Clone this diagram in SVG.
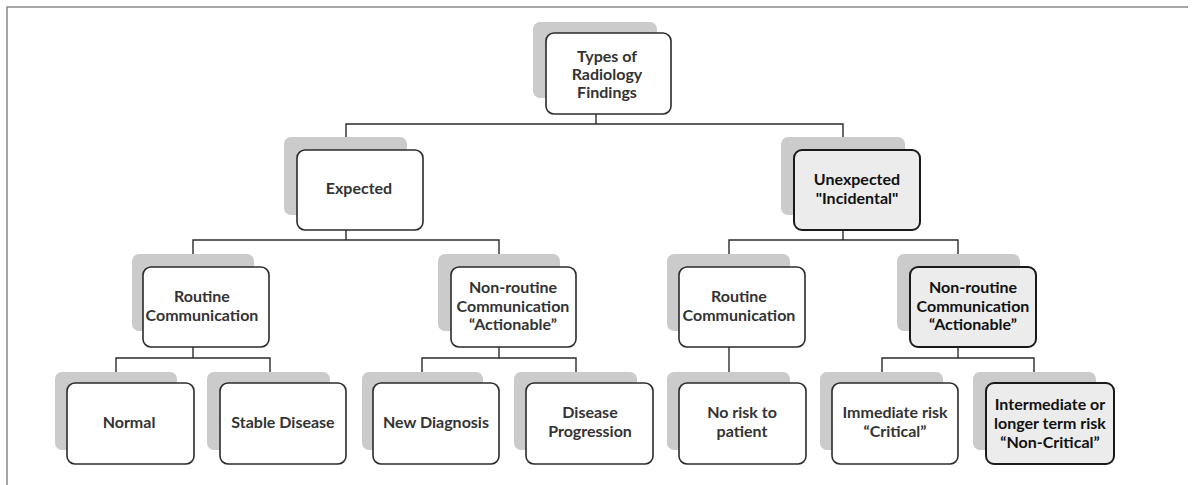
<svg xmlns="http://www.w3.org/2000/svg" width="1195" height="485" viewBox="0 0 1195 485">
<style>
.sh{fill:#cbcbcb;}
.bx{fill:#ffffff;stroke:#2b2b2b;stroke-width:1.6;}
.hl .bx{fill:#ececec;stroke:#1a1a1a;stroke-width:2;}
text{font-family:Lato,"Open Sans","Liberation Sans",sans-serif;font-weight:bold;font-size:16px;fill:#333333;text-anchor:middle;}
.hl text{fill:#111111;}
.cn{fill:none;stroke:#2b2b2b;stroke-width:1.4;}
.fr{fill:none;stroke:#8a8a8a;stroke-width:1.5;}
</style>
<g id="frame">
<polyline class="fr" points="7,485 7,7 1188,7"/>
</g>
<g id="connectors">
<polyline class="cn" points="596,114 596,124"/>
<polyline class="cn" points="346,150 346,124 843,124 843,150"/>
<polyline class="cn" points="346,230 346,240"/>
<polyline class="cn" points="193,267 193,240 499,240 499,267"/>
<polyline class="cn" points="843,230 843,240"/>
<polyline class="cn" points="729,267 729,240 958,240 958,267"/>
<polyline class="cn" points="193,347 193,358"/>
<polyline class="cn" points="116,383 116,358 270,358 270,383"/>
<polyline class="cn" points="499,347 499,358"/>
<polyline class="cn" points="422,383 422,358 576,358 576,383"/>
<polyline class="cn" points="729,347 729,383"/>
<polyline class="cn" points="958,347 958,358"/>
<polyline class="cn" points="882,383 882,358 1034,358 1034,383"/>
</g>
<g id="n-root">
<rect class="sh" x="533" y="22" width="124" height="76" rx="7"/>
<rect class="bx" x="546" y="33" width="125" height="81" rx="8"/>
<text x="607" y="62">Types of</text>
<text x="607" y="80">Radiology</text>
<text x="607" y="98">Findings</text>
</g>
<g id="n-expected">
<rect class="sh" x="284" y="137" width="123" height="78" rx="7"/>
<rect class="bx" x="297" y="150" width="126" height="80" rx="8"/>
<text x="359" y="194">Expected</text>
</g>
<g id="n-unexpected" class="hl">
<rect class="sh" x="781" y="137" width="124" height="78" rx="7"/>
<rect class="bx" x="794" y="150" width="126" height="80" rx="8"/>
<text x="857" y="185">Unexpected</text>
<text x="857" y="204">"Incidental"</text>
</g>
<g id="n-routine1">
<rect class="sh" x="132" y="254" width="122" height="77" rx="7"/>
<rect class="bx" x="143" y="267" width="126" height="80" rx="8"/>
<text x="202" y="302">Routine</text>
<text x="202" y="321">Communication</text>
</g>
<g id="n-nonroutine1">
<rect class="sh" x="438" y="254" width="122" height="77" rx="7"/>
<rect class="bx" x="451" y="267" width="125" height="80" rx="8"/>
<text x="513" y="293">Non-routine</text>
<text x="513" y="312">Communication</text>
<text x="513" y="330">“Actionable”</text>
</g>
<g id="n-routine2">
<rect class="sh" x="667" y="254" width="123" height="77" rx="7"/>
<rect class="bx" x="679" y="267" width="126" height="80" rx="8"/>
<text x="739" y="302">Routine</text>
<text x="739" y="321">Communication</text>
</g>
<g id="n-nonroutine2" class="hl">
<rect class="sh" x="897" y="254" width="123" height="77" rx="7"/>
<rect class="bx" x="910" y="267" width="126" height="80" rx="8"/>
<text x="973" y="293">Non-routine</text>
<text x="973" y="312">Communication</text>
<text x="973" y="330">“Actionable”</text>
</g>
<g id="n-normal">
<rect class="sh" x="55" y="372" width="122" height="78" rx="7"/>
<rect class="bx" x="67" y="383" width="127" height="81" rx="8"/>
<text x="129" y="428">Normal</text>
</g>
<g id="n-stable">
<rect class="sh" x="207" y="372" width="123" height="78" rx="7"/>
<rect class="bx" x="220" y="383" width="126" height="81" rx="8"/>
<text x="283" y="428">Stable Disease</text>
</g>
<g id="n-newdiag">
<rect class="sh" x="362" y="372" width="121" height="78" rx="7"/>
<rect class="bx" x="373" y="383" width="126" height="81" rx="8"/>
<text x="436" y="428">New Diagnosis</text>
</g>
<g id="n-progression">
<rect class="sh" x="514" y="372" width="123" height="78" rx="7"/>
<rect class="bx" x="526" y="383" width="127" height="81" rx="8"/>
<text x="590" y="418">Disease</text>
<text x="590" y="437">Progression</text>
</g>
<g id="n-norisk">
<rect class="sh" x="667" y="372" width="123" height="78" rx="7"/>
<rect class="bx" x="679" y="383" width="127" height="81" rx="8"/>
<text x="742" y="418">No risk to</text>
<text x="742" y="437">patient</text>
</g>
<g id="n-immediate">
<rect class="sh" x="820" y="372" width="123" height="78" rx="7"/>
<rect class="bx" x="832" y="383" width="126" height="81" rx="8"/>
<text x="895" y="418">Immediate risk</text>
<text x="895" y="437">“Critical”</text>
</g>
<g id="n-intermediate" class="hl">
<rect class="sh" x="973" y="372" width="123" height="78" rx="7"/>
<rect class="bx" x="986" y="383" width="128" height="81" rx="8"/>
<text x="1050" y="410">Intermediate or</text>
<text x="1050" y="429">longer term risk</text>
<text x="1050" y="448">“Non-Critical”</text>
</g>
</svg>
